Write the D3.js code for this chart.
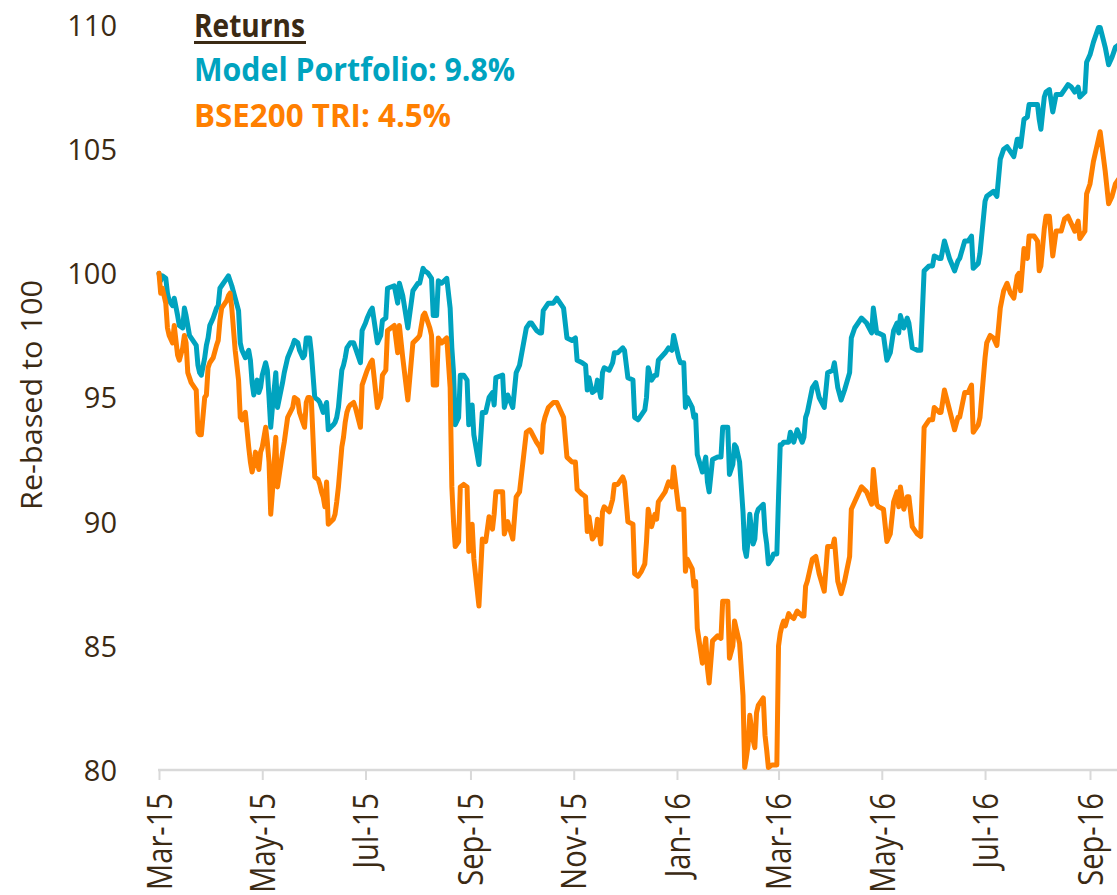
<!DOCTYPE html>
<html><head><meta charset="utf-8">
<script src="https://cdn.jsdelivr.net/npm/d3@7"></script>
<style>html,body{margin:0;padding:0;background:#fff;overflow:hidden}</style>
</head><body><svg id="chart" width="1117" height="895"></svg>
<script>
// ---- data ----
const dates = [
 "2015-03-01","2015-03-02","2015-03-03","2015-03-05","2015-03-06","2015-03-07","2015-03-09","2015-03-10","2015-03-12","2015-03-13","2015-03-15","2015-03-16","2015-03-17","2015-03-18","2015-03-19","2015-03-20","2015-03-22","2015-03-23","2015-03-24","2015-03-25","2015-03-26","2015-03-28","2015-03-29","2015-03-30","2015-03-31",
 "2015-04-02","2015-04-04","2015-04-05","2015-04-06","2015-04-07","2015-04-10","2015-04-11","2015-04-12","2015-04-13","2015-04-15","2015-04-17","2015-04-18","2015-04-19","2015-04-21","2015-04-23","2015-04-24","2015-04-25","2015-04-26","2015-04-27","2015-04-28","2015-04-29","2015-04-30",
 "2015-05-01","2015-05-03","2015-05-04","2015-05-05","2015-05-06","2015-05-07","2015-05-09","2015-05-10","2015-05-13","2015-05-14","2015-05-16","2015-05-19","2015-05-20","2015-05-22","2015-05-23","2015-05-25","2015-05-26","2015-05-27","2015-05-28","2015-05-29","2015-05-30",
 "2015-06-01","2015-06-03","2015-06-04","2015-06-05","2015-06-06","2015-06-07","2015-06-08","2015-06-09","2015-06-12","2015-06-13","2015-06-14","2015-06-15","2015-06-17","2015-06-18","2015-06-19","2015-06-20","2015-06-21","2015-06-22","2015-06-24","2015-06-25","2015-06-28","2015-06-29",
 "2015-07-01","2015-07-02","2015-07-04","2015-07-05","2015-07-08","2015-07-10","2015-07-11","2015-07-13","2015-07-14","2015-07-18","2015-07-20","2015-07-21","2015-07-23","2015-07-26","2015-07-29",
 "2015-08-01","2015-08-02","2015-08-04","2015-08-05","2015-08-07","2015-08-08","2015-08-09","2015-08-10","2015-08-12","2015-08-13","2015-08-15","2015-08-18","2015-08-20","2015-08-21","2015-08-22","2015-08-23","2015-08-25","2015-08-26","2015-08-28","2015-08-30","2015-08-31",
 "2015-09-02","2015-09-03","2015-09-06","2015-09-08","2015-09-10","2015-09-12","2015-09-14","2015-09-15","2015-09-16","2015-09-20","2015-09-21","2015-09-23","2015-09-26","2015-09-28","2015-09-30",
 "2015-10-04","2015-10-06","2015-10-07","2015-10-10","2015-10-12","2015-10-13","2015-10-14","2015-10-15","2015-10-17","2015-10-20","2015-10-22","2015-10-26","2015-10-28","2015-10-31",
 "2015-11-02","2015-11-03","2015-11-06","2015-11-08","2015-11-09","2015-11-10","2015-11-12","2015-11-14","2015-11-15","2015-11-17","2015-11-18","2015-11-19","2015-11-22","2015-11-24","2015-11-25","2015-11-27","2015-11-30",
 "2015-12-01","2015-12-03","2015-12-06","2015-12-07","2015-12-09","2015-12-11","2015-12-13","2015-12-14","2015-12-15","2015-12-17","2015-12-19","2015-12-20","2015-12-21","2015-12-25","2015-12-27","2015-12-29","2015-12-30",
 "2016-01-02","2016-01-03","2016-01-05","2016-01-06","2016-01-07","2016-01-10","2016-01-11","2016-01-12","2016-01-13","2016-01-16","2016-01-18","2016-01-19","2016-01-20","2016-01-22","2016-01-25","2016-01-27","2016-01-28","2016-01-31",
 "2016-02-01","2016-02-03","2016-02-04","2016-02-05","2016-02-07","2016-02-09","2016-02-10","2016-02-11","2016-02-12","2016-02-13","2016-02-15","2016-02-16","2016-02-17","2016-02-18","2016-02-21","2016-02-22","2016-02-23","2016-02-24","2016-02-26","2016-02-27","2016-02-29",
 "2016-03-01","2016-03-02","2016-03-03","2016-03-04","2016-03-05","2016-03-07","2016-03-08","2016-03-10","2016-03-12","2016-03-15","2016-03-16","2016-03-17","2016-03-18","2016-03-21","2016-03-23","2016-03-25","2016-03-28","2016-03-30",
 "2016-04-02","2016-04-03","2016-04-05","2016-04-07","2016-04-09","2016-04-12","2016-04-13","2016-04-15","2016-04-19","2016-04-22","2016-04-25","2016-04-26","2016-04-28","2016-04-29",
 "2016-05-02","2016-05-04","2016-05-06","2016-05-08","2016-05-10","2016-05-11","2016-05-12","2016-05-14","2016-05-16","2016-05-17","2016-05-19","2016-05-22","2016-05-24","2016-05-26","2016-05-29","2016-05-31",
 "2016-06-01","2016-06-04","2016-06-05","2016-06-07","2016-06-10","2016-06-13","2016-06-15","2016-06-16","2016-06-19","2016-06-21","2016-06-23","2016-06-24","2016-06-27","2016-06-28",
 "2016-07-01","2016-07-02","2016-07-04","2016-07-06","2016-07-08","2016-07-10","2016-07-12","2016-07-14","2016-07-16","2016-07-18","2016-07-20","2016-07-21","2016-07-22","2016-07-24","2016-07-26","2016-07-27","2016-07-30",
 "2016-08-01","2016-08-02","2016-08-03","2016-08-05","2016-08-06","2016-08-08","2016-08-10","2016-08-12","2016-08-15","2016-08-17","2016-08-19","2016-08-21","2016-08-23","2016-08-25","2016-08-26","2016-08-29","2016-08-30",
 "2016-09-01","2016-09-03","2016-09-06","2016-09-07","2016-09-10","2016-09-12","2016-09-14","2016-09-16","2016-09-18"
];
const modelPortfolio = [
 100.0,99.7,99.9,99.8,99.2,98.9,98.7,99.0,98.3,97.9,97.8,98.6,98.3,97.9,97.5,97.4,97.2,97.1,96.3,96.0,95.9,96.6,97.1,97.4,97.9,
 98.2,98.6,98.7,99.4,99.5,99.8,99.9,99.7,99.5,99.0,98.5,97.2,96.9,96.6,96.9,96.5,95.6,95.1,95.4,95.7,95.2,95.4,
 95.9,96.4,96.1,95.0,93.8,94.6,96.0,94.6,95.6,96.0,96.6,97.1,97.3,97.2,96.9,96.6,96.7,97.4,97.4,97.4,96.8,
 95.0,94.9,94.8,94.6,94.4,94.6,94.8,93.7,93.9,94.0,94.2,94.6,96.1,96.3,96.6,97.0,97.1,97.2,97.2,97.0,96.4,97.7,
 98.0,98.2,98.5,98.6,97.2,97.5,98.1,98.2,99.4,99.5,98.8,99.6,99.1,97.8,99.3,
 99.6,99.6,100.2,100.1,100.0,99.9,99.8,98.3,98.3,99.7,99.6,99.8,98.6,97.0,96.0,93.9,94.2,95.9,95.9,95.7,93.9,
 94.7,93.5,92.3,94.4,94.4,95.0,95.2,94.7,95.8,95.9,94.6,95.1,94.6,96.0,96.3,
 97.8,98.0,98.0,97.7,97.6,97.6,98.5,98.6,98.8,98.8,99.0,98.6,97.4,97.3,
 97.4,96.5,96.4,96.3,95.3,95.8,95.2,95.3,95.7,95.0,96.0,96.2,96.1,96.4,96.8,96.8,97.0,
 96.9,95.8,95.7,94.2,94.1,94.3,94.5,95.0,96.2,95.7,95.9,95.9,96.5,96.8,97.0,96.9,97.5,
 96.6,96.4,96.4,94.6,95.0,94.6,94.2,94.3,92.7,92.0,92.6,91.6,91.2,92.5,92.6,92.6,93.8,93.8,
 91.9,92.3,93.1,93.0,92.4,90.4,88.9,88.6,89.2,90.3,89.1,89.3,90.3,90.5,90.7,89.6,89.1,88.3,88.5,88.7,88.7,
 91.0,93.1,93.1,93.2,93.2,93.2,93.6,93.2,93.7,93.2,93.4,94.2,94.4,95.4,95.6,95.0,94.6,96.0,
 96.1,96.4,95.4,94.9,95.3,96.0,97.4,97.8,98.2,98.0,97.6,98.6,97.6,97.6,
 97.5,96.5,96.8,97.7,98.0,97.6,98.3,97.8,98.2,98.0,97.0,96.9,96.9,100.1,100.3,100.3,
 100.7,100.6,100.6,101.3,100.6,100.1,100.5,100.6,101.3,101.3,101.5,100.2,100.4,100.8,
 102.9,103.1,103.2,103.3,103.1,104.6,105.0,105.1,104.9,104.7,105.4,105.4,105.1,106.2,106.3,106.8,106.8,
 106.8,106.2,105.8,107.1,107.3,107.4,106.5,107.2,107.2,107.4,107.6,107.5,107.3,107.5,107.1,107.3,108.5,
 108.8,109.3,109.9,109.9,109.1,108.4,108.7,109.1,109.2
];
const bse200 = [
 100.0,99.2,99.4,98.8,97.8,97.5,97.2,97.9,96.7,96.5,97.0,97.5,97.2,96.0,95.8,95.6,95.4,95.3,93.6,93.5,93.5,95.0,95.1,96.2,96.4,
 96.6,97.1,97.3,98.1,98.6,98.9,99.1,99.2,98.6,96.9,95.7,94.2,94.1,94.4,93.0,92.4,92.0,92.3,92.8,92.4,92.1,92.8,
 93.0,93.8,93.2,92.4,90.3,91.2,93.4,91.4,92.8,93.2,94.2,94.6,95.0,94.9,94.4,94.0,93.8,94.8,95.0,95.0,94.9,
 91.8,91.7,91.5,91.2,91.0,90.6,91.6,89.9,90.1,90.3,90.8,91.4,93.0,93.4,94.0,94.4,94.6,94.7,94.8,94.6,93.8,95.5,
 95.9,96.1,96.4,96.5,94.6,95.0,95.9,96.1,97.7,97.9,96.8,97.9,96.6,94.9,97.2,
 97.4,97.5,98.3,98.4,98.0,97.8,97.5,95.5,95.5,97.4,97.2,97.4,95.4,91.4,90.0,89.0,89.2,91.4,91.5,91.4,88.8,
 89.9,88.5,86.6,89.3,89.2,90.2,89.7,90.3,91.2,91.2,89.5,90.0,89.3,91.0,91.2,
 93.6,93.7,93.6,93.2,93.0,92.8,93.9,94.2,94.6,94.8,94.8,94.2,92.6,92.4,
 92.4,91.3,91.1,91.0,89.6,90.2,89.3,89.5,90.1,89.1,90.4,90.6,90.4,90.9,91.5,91.5,91.8,
 91.6,90.0,89.9,87.9,87.8,88.0,88.3,89.2,90.5,89.8,90.3,90.1,90.8,91.2,91.6,91.4,92.2,
 90.5,90.5,90.5,88.0,88.5,88.1,87.4,87.6,85.7,84.3,85.3,84.1,83.5,85.2,85.4,85.3,86.8,86.8,
 84.5,85.0,86.0,85.7,85.1,83.0,80.1,80.5,81.0,82.2,81.2,80.9,82.3,82.6,82.9,81.4,80.8,80.1,80.2,80.2,80.2,
 85.0,85.5,85.8,86.0,85.8,86.3,86.2,86.1,86.4,86.2,86.2,87.4,87.6,88.5,88.6,87.9,87.2,89.0,
 89.0,89.3,87.6,87.1,87.6,88.6,90.5,90.8,91.4,91.2,90.7,92.1,90.7,90.6,
 90.5,89.2,89.5,90.8,91.2,90.6,91.4,90.5,91.0,91.0,89.8,89.5,89.4,93.8,94.1,94.1,
 94.6,94.4,94.4,95.3,94.5,93.7,94.2,94.2,95.2,95.2,95.5,93.6,93.9,94.2,
 96.6,97.2,97.5,97.4,97.1,98.6,99.3,99.6,99.2,99.0,99.9,100.0,99.3,101.0,100.6,101.5,101.5,
 101.3,100.1,100.3,101.8,102.3,102.3,100.7,101.7,101.7,102.2,102.3,102.0,101.7,102.1,101.4,101.7,103.2,
 103.6,104.5,105.4,105.7,104.1,102.8,103.1,103.6,103.8
];
const yTickValues = [80, 85, 90, 95, 100, 105, 110];
const xTickDates = ["2015-03-01","2015-05-01","2015-07-01","2015-09-01","2015-11-01","2016-01-01","2016-03-01","2016-05-01","2016-07-01","2016-09-01"];
const seriesNames = ["Model Portfolio", "BSE200 TRI"];
const seriesReturns = ["9.8%", "4.5%"];
const seriesColors = ["#00A3BF", "#FF7F00"];
const legendTitle = "Returns";
const yTitle = "Re-based to 100";

// ---- drawing ----
const W = 1117, H = 895;
const TEXT = "#3b2a14";
const FONT = "'Open Sans', 'Noto Sans', sans-serif";
const parse = d3.utcParse("%Y-%m-%d");
const svg = d3.select("#chart");

const x = d3.scaleUtc().domain([parse("2015-03-01"), parse("2016-09-01")]).range([159, 1090]);
const y = d3.scaleLinear().domain([80, 110]).range([770, 25]);

// x axis
const xAxisG = svg.append("g").attr("transform", `translate(0,${y(80)})`);
xAxisG.call(d3.axisBottom(x)
  .tickValues(xTickDates.map(parse))
  .tickFormat(d3.utcFormat("%b-%y"))
  .tickSize(10).tickSizeOuter(0));
xAxisG.select(".domain").remove();
xAxisG.insert("line", ":first-child")
  .attr("x1", x(parse(xTickDates[0])) - 1).attr("x2", W)
  .attr("y1", 0).attr("y2", 0)
  .attr("stroke", "#d9d9d9").attr("stroke-width", 2.5);
xAxisG.selectAll(".tick line").attr("stroke", "#d9d9d9").attr("stroke-width", 2);
const xLabels = xAxisG.selectAll(".tick text")
  .attr("fill", TEXT).attr("font-family", FONT).attr("font-size", 34)
  .attr("x", 0).attr("y", 0).attr("dy", "0.36em")
  .attr("text-anchor", "end");
const firstLen = xLabels.node().getComputedTextLength();
const sx = 97 / firstLen;
xLabels.attr("transform", `translate(0,23) rotate(-90) scale(${sx},1)`);

// y axis
const yAxisG = svg.append("g").attr("transform", "translate(117,0)");
yAxisG.call(d3.axisLeft(y).tickValues(yTickValues).tickSize(0).tickPadding(0));
yAxisG.select(".domain").remove();
yAxisG.selectAll(".tick text")
  .attr("fill", TEXT).attr("font-family", FONT).attr("font-size", 29)
  .attr("dy", "0.36em");

// y title
svg.append("text")
  .attr("transform", "translate(42,395) rotate(-90)")
  .attr("text-anchor", "middle")
  .attr("font-family", FONT).attr("font-size", 30).attr("fill", TEXT)
  .attr("textLength", 230).attr("lengthAdjust", "spacingAndGlyphs")
  .text(yTitle);

// lines
const rows = dates.map((d, i) => ({ date: parse(d), mp: modelPortfolio[i], bse: bse200[i] }));
const line = key => d3.line().x(d => x(d.date)).y(d => y(d[key]));
svg.append("path").datum(rows)
  .attr("d", line("mp")).attr("fill", "none")
  .attr("stroke", seriesColors[0]).attr("stroke-width", 5)
  .attr("stroke-linejoin", "round").attr("stroke-linecap", "round");
svg.append("path").datum(rows)
  .attr("d", line("bse")).attr("fill", "none")
  .attr("stroke", seriesColors[1]).attr("stroke-width", 5)
  .attr("stroke-linejoin", "round").attr("stroke-linecap", "round");

// legend
const lg = svg.append("g").attr("font-family", FONT).attr("font-weight", "bold").attr("font-size", 33);
lg.append("text").attr("x", 194).attr("y", 37).attr("fill", TEXT)
  .attr("textLength", 111).attr("lengthAdjust", "spacingAndGlyphs").text(legendTitle);
lg.append("line").attr("x1", 194).attr("x2", 306).attr("y1", 42.5).attr("y2", 42.5)
  .attr("stroke", TEXT).attr("stroke-width", 3);
const legendY = [81, 126.5];
const legendW = [321, 257];
seriesNames.forEach((n, i) => {
  lg.append("text").attr("x", 194).attr("y", legendY[i]).attr("fill", seriesColors[i])
    .attr("textLength", legendW[i]).attr("lengthAdjust", "spacingAndGlyphs")
    .text(`${n}: ${seriesReturns[i]}`);
});
</script>
</body></html>
